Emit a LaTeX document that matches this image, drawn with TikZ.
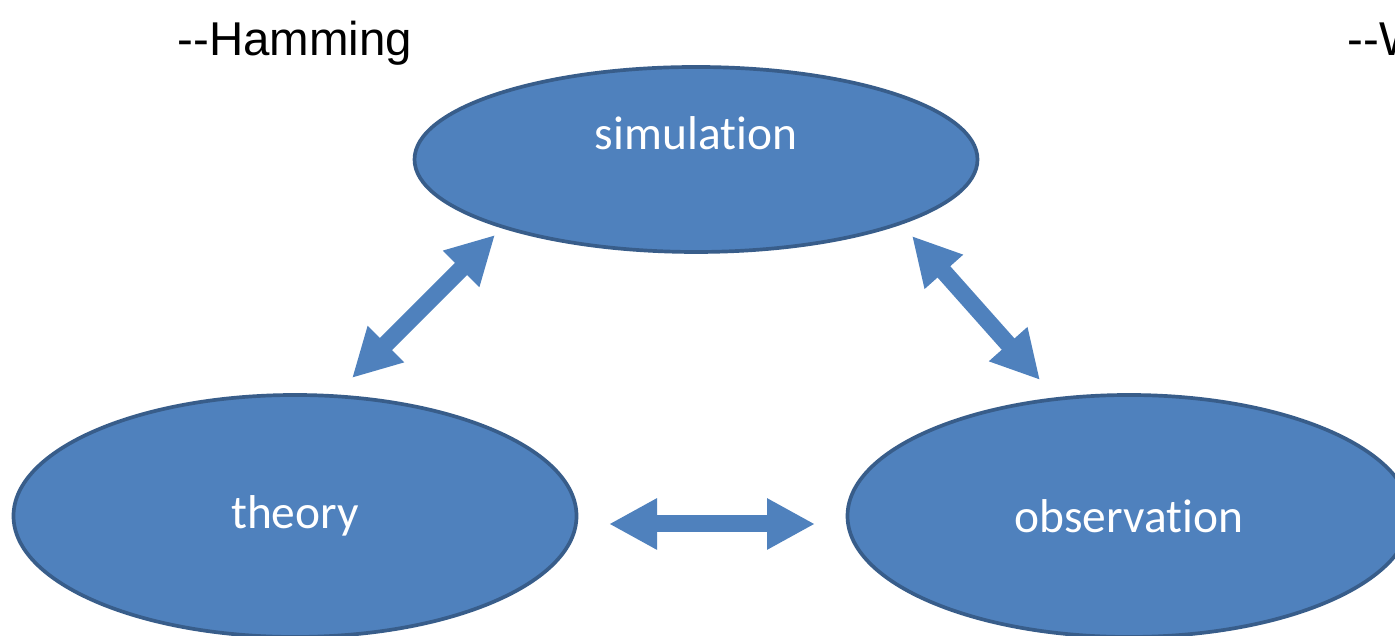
\documentclass[tikz,border=0pt]{standalone}
\usepackage{fontspec}
\setmainfont{Carlito}[Ligatures=NoCommon]
\newfontfamily\quotefont{Liberation Sans}
\usetikzlibrary{shapes.geometric,arrows.meta}
\definecolor{fillblue}{HTML}{4F81BD}
\definecolor{edgeblue}{HTML}{385D8A}
\begin{document}
\begin{tikzpicture}[font=\fontsize{13.5}{16}\selectfont,
  blob/.style={ellipse, draw=edgeblue, fill=fillblue, line width=1.05pt, inner sep=0pt},
  lbl/.style={text=white},
  quote/.style={font=\quotefont\fontsize{13.5}{16}\selectfont, anchor=base west, inner sep=0pt},
  link/.style={fillblue, line width=0.17cm, {Triangle[length=0.48cm,width=0.48cm]}-{Triangle[length=0.48cm,width=0.48cm]}}]
 \useasboundingbox[fill=white] (0,0) rectangle (13.95,6.36);
 % the three ellipses
 \node[blob, minimum width=5.63cm, minimum height=1.85cm] (sim) at (6.96,4.765) {};
 \node[lbl] (simtxt) at ([yshift=0.26cm]sim.center) {simulation};
 \node[blob, minimum width=5.63cm, minimum height=2.42cm] (theo) at (2.95,1.20) {};
 \node[lbl] (theotxt) at (theo.center) {theory};
 \node[blob, minimum width=5.63cm, minimum height=2.42cm] (obs) at (11.29,1.20) {};
 \node[lbl] (obstxt) at (obs.center) {observation};
 % quotes
 \node[quote] (ham) at (1.77,5.80) {--Hamming};
 \node[quote] (wq) at (13.47,5.80) {--W};
 % arrow ends
 \coordinate (a1) at (4.95,4.01);
 \coordinate (a2) at (3.52,2.58);
 \coordinate (b1) at (9.12,4.00);
 \coordinate (b2) at (10.40,2.56);
 \coordinate (c1) at (6.09,1.12);
 \coordinate (c2) at (8.15,1.12);
 \draw[link] (a2) -- (a1);
 \draw[link] (b1) -- (b2);
 \draw[link] (c1) -- (c2);
\end{tikzpicture}
\end{document}
